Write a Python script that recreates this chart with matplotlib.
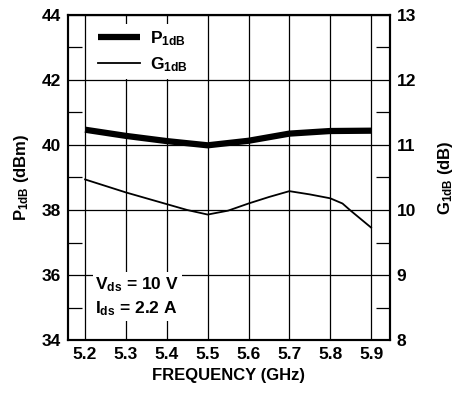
import matplotlib
matplotlib.use('Agg')
import matplotlib.pyplot as plt
from matplotlib.ticker import MultipleLocator

plt.rcParams['font.family'] = ['Liberation Sans', 'DejaVu Sans']
plt.rcParams['font.weight'] = 'bold'
plt.rcParams['mathtext.fontset'] = 'custom'
plt.rcParams['mathtext.bf'] = 'Liberation Sans:bold'
plt.rcParams['mathtext.rm'] = 'Liberation Sans:bold'
plt.rcParams['mathtext.default'] = 'bf'

# P1dB (dBm) vs frequency (GHz)
p_freq = [5.2, 5.3, 5.4, 5.5, 5.6, 5.7, 5.8, 5.9]
p1db = [40.47, 40.28, 40.12, 39.99, 40.13, 40.35, 40.43, 40.44]

# G1dB (dB) vs frequency (GHz)
g_freq = [5.2, 5.3, 5.4, 5.45, 5.5, 5.55, 5.6, 5.65, 5.7, 5.75, 5.8, 5.83, 5.85, 5.9]
g1db = [10.47, 10.27, 10.09, 10.0, 9.93, 9.99, 10.1, 10.2, 10.29, 10.24, 10.18, 10.1, 9.99, 9.73]

x_ticks = [5.2, 5.3, 5.4, 5.5, 5.6, 5.7, 5.8, 5.9]

fig = plt.figure(figsize=(4.56, 3.94), dpi=100)
ax = fig.add_axes([0.149, 0.137, 0.706, 0.825])
ax2 = ax.twinx()

# LINES
lp, = ax.plot(p_freq, p1db, color='black', linewidth=4.5, solid_capstyle='butt', label=r'P$_{1dB}$')
lg, = ax2.plot(g_freq, g1db, color='black', linewidth=1.3, label=r'G$_{1dB}$')

# AXES
ax.set_xlim(5.158, 5.946)
ax.set_ylim(34, 44)
ax2.set_ylim(8, 13)
ax.set_xticks(x_ticks)
ax.yaxis.set_major_locator(MultipleLocator(2))
ax.yaxis.set_minor_locator(MultipleLocator(1))
ax2.yaxis.set_major_locator(MultipleLocator(1))
ax2.yaxis.set_minor_locator(MultipleLocator(0.5))
ax.grid(True, which='major', color='black', linewidth=0.9)
ax.tick_params(which='major', length=0, labelsize=12.5, pad=5)
ax.tick_params(axis='y', which='minor', direction='in', length=10, width=0.9)
ax2.tick_params(which='major', length=0, labelsize=12.5, pad=5)
ax2.tick_params(axis='y', which='minor', direction='in', length=10, width=0.9)
for a in (ax, ax2):
    for s in a.spines.values():
        s.set_linewidth(1.5)

ax.set_xlabel('FREQUENCY (GHz)', fontsize=12, fontweight='bold', labelpad=4)
ax.set_ylabel(r'P$_{1dB}$ (dBm)', fontsize=12, fontweight='bold', labelpad=8)
ax2.set_ylabel(r'G$_{1dB}$ (dB)', fontsize=12, fontweight='bold', labelpad=14)

# LEGEND
leg = ax2.legend(handles=[lp, lg], loc='upper left', bbox_to_anchor=(0.05, 1.0),
                 frameon=True, fancybox=False, edgecolor='none', facecolor='white',
                 framealpha=1, fontsize=12.5, handlelength=2.4, handletextpad=0.6,
                 borderpad=0.3, labelspacing=0.45)

# CONDITIONS
ax2.text(0.085, 0.2, r'V$_{ds}$ = 10 V' + '\n' + r'I$_{ds}$ = 2.2 A', transform=ax2.transAxes,
         fontsize=12.5, fontweight='bold', va='top', ha='left', linespacing=1.4,
         bbox=dict(facecolor='white', edgecolor='none', pad=2))

plt.savefig('out.png', dpi=100)
